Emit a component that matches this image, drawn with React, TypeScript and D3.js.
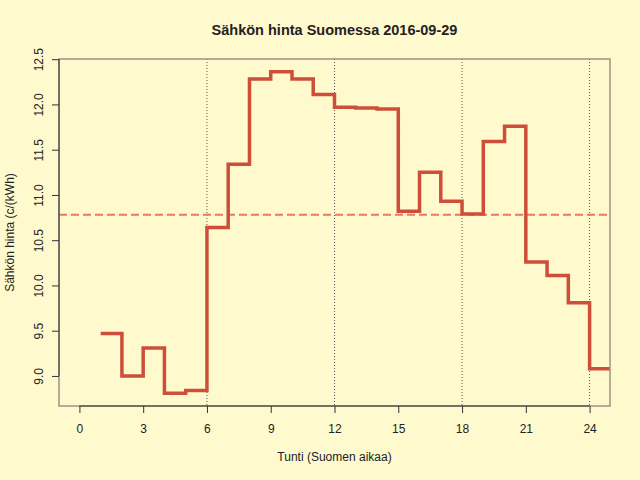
import { useEffect, useRef } from 'react'
import * as d3 from 'd3'

// Hourly spot price, hours 1..24 (c/kWh)
const hours = [1, 2, 3, 4, 5, 6, 7, 8, 9, 10, 11, 12, 13, 14, 15, 16, 17, 18, 19, 20, 21, 22, 23, 24]
const prices = [
  9.47, 9.0, 9.31, 8.81, 8.84, 10.64, 11.34, 12.28, 12.36, 12.28, 12.11, 11.97,
  11.96, 11.95, 10.82, 11.25, 10.93, 10.79, 11.59, 11.76, 10.26, 10.11, 9.81, 9.08,
]
const xTicks = [0, 3, 6, 9, 12, 15, 18, 21, 24]
const yTicks = [9.0, 9.5, 10.0, 10.5, 11.0, 11.5, 12.0, 12.5]
const guideHours = [6, 12, 18, 24]
const xLimits = [0, 24]

const title = 'Sähkön hinta Suomessa 2016-09-29'
const xTitle = 'Tunti (Suomen aikaa)'
const yTitle = 'Sähkön hinta (c/(kWh)'

type Pt = { h: number; v: number }

export default function App() {
  const svgRef = useRef<SVGSVGElement>(null)

  useEffect(() => {
    const svgEl = svgRef.current
    if (!svgEl) return

    const width = 640
    const height = 480
    const margin = { top: 59, right: 30, bottom: 74, left: 59 }
    const font = '"Liberation Sans", Arial, sans-serif'
    const ink = '#222222'

    // R-style 4% axis expansion
    const xPad = (xLimits[1] - xLimits[0]) * 0.04
    const [yMin, yMax] = d3.extent(prices) as [number, number]
    const yPad = (yMax - yMin) * 0.04

    const x = d3.scaleLinear()
      .domain([xLimits[0] - xPad, xLimits[1] + xPad])
      .range([margin.left, width - margin.right])
    const y = d3.scaleLinear()
      .domain([yMin - yPad, yMax + yPad])
      .range([height - margin.bottom, margin.top])

    const svg = d3.select(svgEl)
    svg.selectAll('*').remove()

    svg.append('rect')
      .attr('width', width).attr('height', height)
      .style('fill', '#FFFACD')

    svg.append('clipPath').attr('id', 'plot-clip')
      .append('rect')
      .attr('x', x.range()[0]).attr('y', y.range()[1])
      .attr('width', x.range()[1] - x.range()[0])
      .attr('height', y.range()[0] - y.range()[1])

    // Dotted guides every 6 hours
    svg.append('g')
      .selectAll('line')
      .data(guideHours)
      .join('line')
      .attr('x1', d => x(d)).attr('x2', d => x(d))
      .attr('y1', y.range()[1]).attr('y2', y.range()[0])
      .style('stroke', '#555')
      .style('stroke-width', '1')
      .style('stroke-dasharray', '1 2')

    // Mean line
    const mean = d3.mean(prices) as number
    svg.append('line')
      .attr('x1', x.range()[0]).attr('x2', x.range()[1])
      .attr('y1', y(mean)).attr('y2', y(mean))
      .style('stroke', '#E57A62')
      .style('stroke-width', '2')
      .style('stroke-dasharray', '8 4')

    // Step line (last hour runs on to the frame)
    const pts: Pt[] = hours.map((h, i) => ({ h, v: prices[i] }))
    pts.push({ h: hours[hours.length - 1] + 1, v: prices[prices.length - 1] })
    const step = d3.line<Pt>()
      .x(d => x(d.h))
      .y(d => y(d.v))
      .curve(d3.curveStepAfter)

    svg.append('path')
      .datum(pts)
      .attr('clip-path', 'url(#plot-clip)')
      .attr('fill', 'none')
      .attr('d', step)
      .style('stroke', '#CD4F39')
      .style('stroke-width', '3.5')

    // Frame
    svg.append('rect')
      .attr('x', x.range()[0]).attr('y', y.range()[1])
      .attr('width', x.range()[1] - x.range()[0])
      .attr('height', y.range()[0] - y.range()[1])
      .style('fill', 'none')
      .style('stroke', '#9a9484')
      .style('stroke-width', '1.5')

    // X axis
    const xAxisG = svg.append('g').attr('transform', `translate(0,${y.range()[0]})`)
    xAxisG.call(d3.axisBottom(x).tickValues(xTicks).tickSize(7).tickSizeOuter(0).tickPadding(11))
    xAxisG.select('.domain')
      .attr('d', `M${x(xTicks[0])},0H${x(xTicks[xTicks.length - 1])}`)
      .style('stroke', '#333')
    xAxisG.selectAll('.tick line').style('stroke', '#333')
    xAxisG.selectAll('text')
      .style('fill', ink)
      .style('font-size', '12px')
      .style('font-family', font)

    // Y axis (rotated labels, R style)
    const yAxisG = svg.append('g').attr('transform', `translate(${x.range()[0]},0)`)
    yAxisG.call(d3.axisLeft(y).tickValues(yTicks).tickSize(7).tickSizeOuter(0).tickFormat(d3.format('.1f')))
    yAxisG.select('.domain')
      .attr('d', `M0,${y(yTicks[0])}V${y(yTicks[yTicks.length - 1])}`)
      .style('stroke', '#333')
    yAxisG.selectAll('.tick line').style('stroke', '#333')
    yAxisG.selectAll('text')
      .attr('x', null).attr('dy', null)
      .attr('text-anchor', 'middle')
      .attr('transform', 'translate(-16,0) rotate(-90)')
      .style('fill', ink)
      .style('font-size', '12px')
      .style('font-family', font)

    // Titles
    const cx = (x.range()[0] + x.range()[1]) / 2
    const cy = (y.range()[0] + y.range()[1]) / 2
    svg.append('text')
      .attr('x', cx).attr('y', 35)
      .attr('text-anchor', 'middle')
      .style('font-weight', 'bold')
      .style('font-size', '14.5px')
      .style('font-family', font)
      .style('fill', ink)
      .text(title)

    svg.append('text')
      .attr('x', cx).attr('y', 461)
      .attr('text-anchor', 'middle')
      .style('font-size', '12px')
      .style('font-family', font)
      .style('fill', ink)
      .text(xTitle)

    svg.append('text')
      .attr('transform', `translate(13.5,${cy}) rotate(-90)`)
      .attr('text-anchor', 'middle')
      .style('font-size', '12px')
      .style('font-family', font)
      .style('fill', ink)
      .text(yTitle)
  }, [])

  return (
    <svg
      ref={svgRef}
      width={640}
      height={480}
      style={{ position: 'absolute', left: 0, top: 0, display: 'block' }}
    />
  )
}
